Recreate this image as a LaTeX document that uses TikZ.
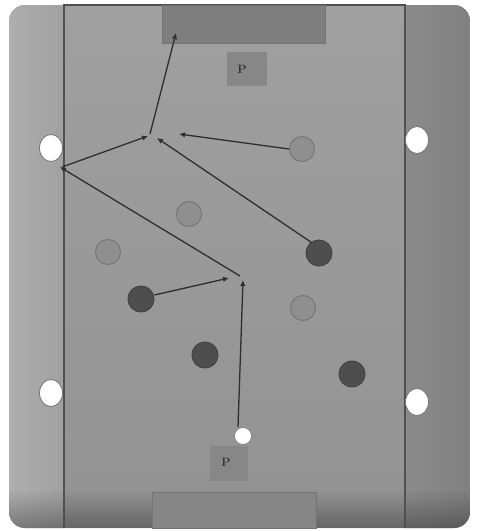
\documentclass[tikz,border=0pt]{standalone}
\usetikzlibrary{arrows.meta,shapes.geometric,fadings}
\definecolor{fieldtop}{HTML}{A0A0A0}
\definecolor{fieldbot}{HTML}{929292}
\definecolor{linec}{HTML}{505050}
\definecolor{goalc}{HTML}{7E7E7E}
\definecolor{pbox}{HTML}{878787}
\definecolor{lightp}{HTML}{8F8F8F}
\definecolor{lightb}{HTML}{767676}
\definecolor{darkp}{HTML}{4E4E4E}
\definecolor{darkb}{HTML}{444444}
\definecolor{arrowc}{HTML}{2E2E2E}
\tikzfading[name=fadedown, top color=transparent!100, bottom color=transparent!0]
\tikzset{
  whitep/.style={ellipse,draw=lightb,line width=0.8pt,fill=white,minimum width=23pt,minimum height=27pt,inner sep=0pt},
  ballp/.style={circle,draw=lightb,line width=0.6pt,fill=white,minimum size=17pt,inner sep=0pt},
  lightpl/.style={circle,draw=lightb,line width=1pt,fill=lightp,minimum size=25pt,inner sep=0pt},
  darkpl/.style={circle,draw=darkb,line width=1pt,fill=darkp,minimum size=26pt,inner sep=0pt},
  pass/.style={draw=arrowc,line width=1.3pt,-{Latex[length=6pt,width=5.5pt]}},
  pboxst/.style={draw=none,fill=pbox,inner sep=0pt},
  ptext/.style={text=black!80,font=\bfseries\large,inner sep=0pt}
}
\begin{document}
\begin{tikzpicture}[x=1pt,y=-1pt]
\useasboundingbox (0,0) rectangle (478,531);
\fill[white] (0,0) rectangle (478,531);
% pitch background
\begin{scope}
\clip[rounded corners=16pt] (9,5) rectangle (470,528);
\shade[top color=fieldtop,bottom color=fieldbot] (9,5) rectangle (470,528);
\shade[left color=fieldtop!85!white,right color=fieldtop] (9,5) rectangle (64,528);
\shade[left color=fieldbot!95!black,right color=fieldbot!88!black] (405,5) rectangle (470,528);
\fill[black,opacity=0.3,path fading=fadedown] (9,490) rectangle (470,528);
\end{scope}
% field lines
\draw[linec,line width=1.2pt] (64,528) -- (64,5) -- (405,5) -- (405,528);
% goals
\node[draw=linec!80,fill=goalc,line width=0.8pt,inner sep=0pt,minimum width=163pt,minimum height=38pt] (gtop) at (243.5,24) {};
\node[draw=linec!80,fill=fieldbot!92!black,line width=0.8pt,inner sep=0pt,minimum width=164pt,minimum height=36pt] (gbot) at (234.5,510) {};
% P boxes
\node[pboxst,minimum width=40pt,minimum height=34pt] (ptop) at (247,69) {};
\node[ptext] (ptopt) at (242,69) {P};
\node[pboxst,minimum width=38pt,minimum height=35pt] (pbot) at (229,463) {};
\node[ptext] (pbott) at (226,462) {P};
% players
\node[whitep] (w1) at (51,148) {};
\node[whitep] (w2) at (417,140) {};
\node[whitep] (w3) at (51,393) {};
\node[whitep] (w4) at (417,402) {};
\node[ballp] (ball) at (243,436) {};
\node[lightpl] (l1) at (302,149) {};
\node[lightpl] (l2) at (189,214) {};
\node[lightpl] (l3) at (108,252) {};
\node[lightpl] (l4) at (303,308) {};
\node[darkpl] (d1) at (319,253) {};
\node[darkpl] (d2) at (141,299) {};
\node[darkpl] (d3) at (205,355) {};
\node[darkpl] (d4) at (352,374) {};
% pass points
\coordinate (p1) at (243,280);
\coordinate (p1b) at (240,276);
\coordinate (q1) at (229,278);
\coordinate (p2) at (60,167);
\coordinate (p2b) at (62,167);
\coordinate (p3) at (148,136);
\coordinate (p3b) at (150,134);
\coordinate (p4) at (176,33);
\coordinate (q2) at (157,138);
\coordinate (q3) at (179,134);
% passes
\draw[pass] (ball.north) ++(-5,0) -- (p1);
\draw[pass] (p1b) -- (p2);
\draw[pass] (d2.east) ++(0,-4) -- (q1);
\draw[pass] (p2b) -- (p3);
\draw[pass] (p3b) -- (p4);
\draw[pass] (d1.north west) ++(2,-1) -- (q2);
\draw[pass] (l1.west) -- (q3);
\end{tikzpicture}
\end{document}
